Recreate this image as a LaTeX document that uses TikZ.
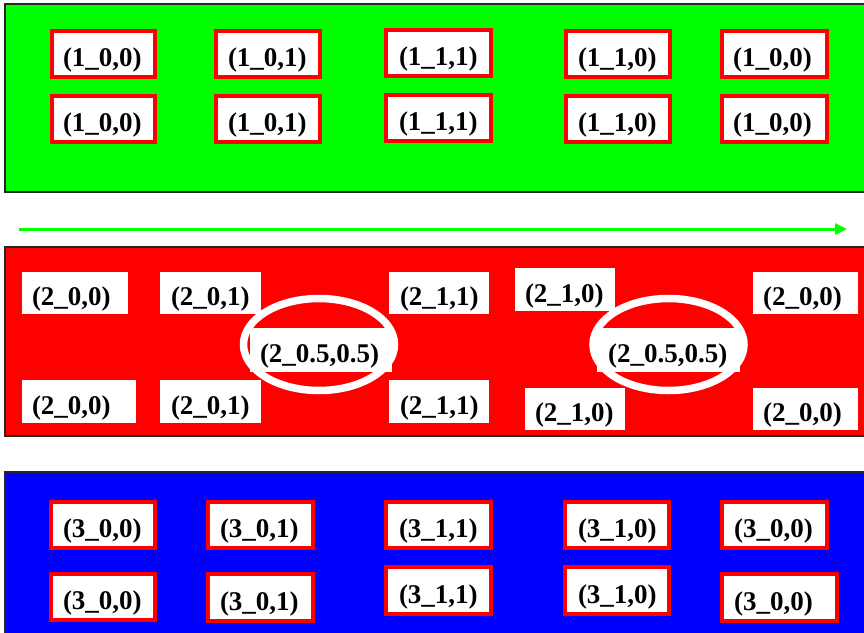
\documentclass[tikz,border=0pt]{standalone}
\usepackage{fontspec}
\setmainfont{Liberation Serif}
\usetikzlibrary{arrows.meta}
\definecolor{bandgreen}{RGB}{0,255,0}
\definecolor{bandred}{RGB}{255,0,0}
\definecolor{bandblue}{RGB}{0,0,255}

\tikzset{
  band/.style={draw=black!85, line width=1.2pt},
  cellbase/.style={fill=white, inner xsep=0pt, inner ysep=0pt, align=left,
    text height=25pt, text depth=0pt,
    font=\bfseries\fontsize{27}{30}\selectfont},
  framedcell/.style={cellbase, draw=bandred, line width=4pt},
  plaincell/.style={cellbase},
  ring/.style={draw=white, line width=7.5pt},
  flow/.style={draw=bandgreen, line width=3pt,
    -{Triangle[length=12pt, width=11pt]}}
}

% #1 style, #2 frame width, #3 name, #4 x1, #5 y1, #6 x2, #7 y2 (outer edges),
% #8 x of the text start, #9 text
\newcommand\cellat[9]{%
  \pgfmathsetmacro\cellcx{(#4+#6)/2}%
  \pgfmathsetmacro\cellcy{(#5+#7)/2}%
  \pgfmathsetmacro\cellw{#6-#4-#2}%
  \pgfmathsetmacro\cellh{#7-#5-#2}%
  \pgfmathsetmacro\cellpad{#8-#4-#2/2}%
  \node[#1, text width=\cellw pt, minimum width=\cellw pt, minimum height=\cellh pt]
    (#3) at (\cellcx,\cellcy) {\hspace*{\cellpad pt}#9};%
}
\newcommand\fcell[7]{\cellat{framedcell}{4}{#1}{#2}{#3}{#4}{#5}{#6}{#7}}
\newcommand\pcell[7]{\cellat{plaincell}{0}{#1}{#2}{#3}{#4}{#5}{#6}{#7}}

\begin{document}
\begin{tikzpicture}[x=1pt, y=-1pt]
\useasboundingbox (0,0) rectangle (864,632);

% the three bands
\path[band, fill=bandgreen] (5,4) rectangle (872,192);
\path[band, fill=bandred]   (5,247) rectangle (872,436);
\path[band, fill=bandblue]  (5,472) rectangle (872,642);

% direction arrow between the first two bands
\coordinate (flowstart) at (19,229);
\coordinate (flowend) at (847,229);
\draw[flow] (flowstart) -- (flowend);

% band 1
\fcell{g11}{50}{29}{157}{79}{63}{(1\_0,0)}
\fcell{g12}{214}{29}{322}{79}{228}{(1\_0,1)}
\fcell{g13}{384}{28}{493}{78}{399}{(1\_1,1)}
\fcell{g14}{564}{29}{672}{79}{578}{(1\_1,0)}
\fcell{g15}{720}{29}{829}{79}{733}{(1\_0,0)}
\fcell{g21}{50}{94}{157}{144}{63}{(1\_0,0)}
\fcell{g22}{214}{94}{322}{144}{228}{(1\_0,1)}
\fcell{g23}{384}{93}{493}{143}{399}{(1\_1,1)}
\fcell{g24}{564}{94}{672}{144}{578}{(1\_1,0)}
\fcell{g25}{720}{94}{829}{144}{733}{(1\_0,0)}

% band 2
\pcell{r11}{22}{272}{128}{314}{32}{(2\_0,0)}
\pcell{r12}{160}{272}{261}{314}{171}{(2\_0,1)}
\pcell{r13}{389}{272}{489}{314}{400}{(2\_1,1)}
\pcell{r14}{515}{268}{615}{311}{525}{(2\_1,0)}
\pcell{r15}{753}{272}{858}{314}{763}{(2\_0,0)}
\pcell{r21}{22}{380}{136}{423}{32}{(2\_0,0)}
\pcell{r22}{160}{380}{261}{423}{171}{(2\_0,1)}
\pcell{r23}{389}{380}{489}{423}{400}{(2\_1,1)}
\pcell{r24}{525}{388}{625}{430}{535}{(2\_1,0)}
\pcell{r25}{753}{388}{858}{430}{763}{(2\_0,0)}
\pcell{rm1}{250}{328}{392}{372}{260}{(2\_0.5,0.5)}
\pcell{rm2}{597}{328}{740}{372}{608}{(2\_0.5,0.5)}
\draw[ring] (319,344.5) ellipse [x radius=75.5, y radius=46];
\draw[ring] (668.5,344.5) ellipse [x radius=75.5, y radius=46];

% band 3
\fcell{b11}{49}{500}{157}{550}{63}{(3\_0,0)}
\fcell{b12}{206}{500}{315}{550}{220}{(3\_0,1)}
\fcell{b13}{384}{500}{493}{550}{399}{(3\_1,1)}
\fcell{b14}{563}{500}{671}{550}{578}{(3\_1,0)}
\fcell{b15}{720}{500}{829}{550}{734}{(3\_0,0)}
\fcell{b21}{49}{572}{157}{622}{63}{(3\_0,0)}
\fcell{b22}{206}{572}{315}{623}{220}{(3\_0,1)}
\fcell{b23}{384}{565}{493}{616}{399}{(3\_1,1)}
\fcell{b24}{563}{565}{671}{616}{578}{(3\_1,0)}
\fcell{b25}{720}{572}{839}{623}{734}{(3\_0,0)}
\end{tikzpicture}
\end{document}
